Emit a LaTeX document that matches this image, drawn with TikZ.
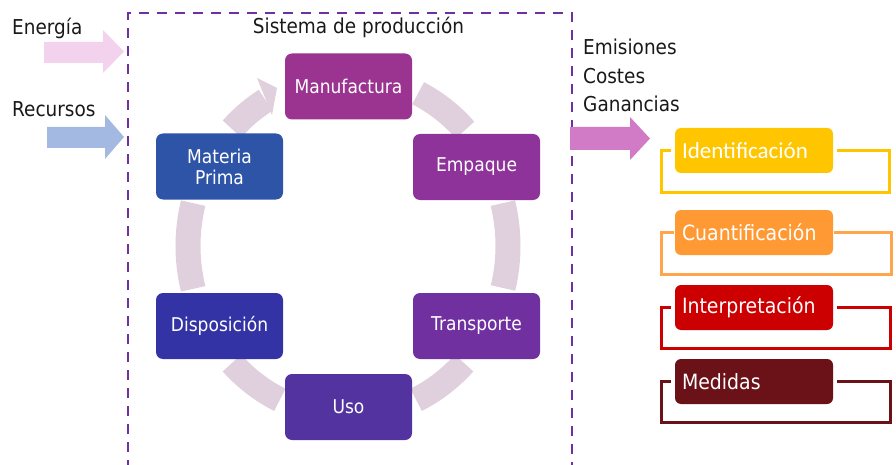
\documentclass[tikz,border=0pt]{standalone}
\usepackage{fontspec}
\setmainfont{DejaVu Sans}[FakeStretch=0.9]
\newfontfamily\idfont{Carlito}
\definecolor{cFrame}{HTML}{7030A0}
\definecolor{cRing}{HTML}{E0D0DE}
\definecolor{cEn}{HTML}{F2D2EC}
\definecolor{cRec}{HTML}{A4B9E2}
\definecolor{cOut}{HTML}{D17AC6}
\definecolor{cManu}{HTML}{9B3390}
\definecolor{cEmp}{HTML}{8E3399}
\definecolor{cTra}{HTML}{7030A0}
\definecolor{cUso}{HTML}{5233A0}
\definecolor{cDis}{HTML}{3333A6}
\definecolor{cMat}{HTML}{2E54A8}
\definecolor{cYel}{HTML}{FFC600}
\definecolor{cOra}{HTML}{FF9933}
\definecolor{cOraL}{HTML}{FFA64D}
\definecolor{cRed}{HTML}{CC0000}
\definecolor{cDrk}{HTML}{6B1218}
\begin{document}
\begin{tikzpicture}[x=1pt,y=-1pt,
  cyc/.style={rounded corners=7pt, minimum width=127pt, minimum height=66pt, inner sep=0pt,
    text=white, font=\fontsize{19}{21}\selectfont, align=center},
  ring/.style={draw=cRing, line width=25pt},
  lbl/.style={font=\fontsize{20.5}{24}\selectfont, text=black!90, inner sep=0pt, anchor=base west},
  rbox/.style={rounded corners=6pt, minimum height=45pt, text width=144pt, inner xsep=7pt,
    inner ysep=0pt, align=left, text=white, font=\fontsize{21}{24}\selectfont},
  bk/.style={line width=2.8pt},
  frame/.style={draw=cFrame, line width=2.7pt, dash pattern=on 10pt off 8pt}]
\useasboundingbox (0,0) rectangle (896,465);

% dashed frame of the production system
\draw[frame] (128,470) -- (128,13) -- (572,13) -- (572,470);

% input / output block arrows
\fill[cEn] (44,42) -- (103,42) -- (103,30) -- (124,51.5) -- (103,73) -- (103,63) -- (44,63) -- cycle;
\fill[cRec] (47,127) -- (105,127) -- (105,115) -- (124,137) -- (105,159) -- (105,148) -- (47,148) -- cycle;
\fill[cOut] (570,127) -- (630,127) -- (630,117) -- (650,138.5) -- (630,160) -- (630,150) -- (570,150) -- cycle;

% labels
\node[lbl] (en) at (12,35) {Energía};
\node[lbl] (rec) at (12,117) {Recursos};
\node[lbl, anchor=base] (sys) at (358.5,34) {Sistema de producción};
\node[lbl] (emi) at (583,55) {Emisiones};
\node[lbl] (cos) at (583,84) {Costes};
\node[lbl] (gan) at (583,112) {Ganancias};

% cycle ring
\coordinate (C) at (348,246);
\draw[ring] (C) ++(-64:160 and 170) arc[start angle=-64, end angle=-43, x radius=160, y radius=170];
\draw[ring] (C) ++(-14.6:160 and 170) arc[start angle=-14.6, end angle=14.3, x radius=160, y radius=170];
\draw[ring] (C) ++(43.5:160 and 170) arc[start angle=43.5, end angle=64.8, x radius=160, y radius=170];
\draw[ring] (C) ++(115.2:160 and 170) arc[start angle=115.2, end angle=136.5, x radius=160, y radius=170];
\draw[ring] (C) ++(165.4:160 and 170) arc[start angle=165.4, end angle=194.6, x radius=160, y radius=170];
\draw[ring] (C) ++(-136.5:160 and 170) arc[start angle=-136.5, end angle=-121, x radius=160, y radius=170];
\fill[cRing] (257,78) -- (277,88) -- (272,115) -- cycle;

% cycle boxes
\node[cyc, fill=cManu] (manu) at (348.5,86.5) {Manufactura};
\node[cyc, fill=cEmp] (emp) at (476.5,167) {Empaque};
\node[cyc, fill=cTra] (tra) at (476.5,326) {Transporte};
\node[cyc, fill=cUso] (uso) at (348.5,407) {Uso};
\node[cyc, fill=cDis] (dis) at (219.5,326) {Disposición};
\node[cyc, fill=cMat] (mat) at (219.5,166.5) {Materia\\Prima};

% right-hand steps
\node[rbox, fill=cYel, font=\idfont\fontsize{23}{26}\selectfont] (b1) at (754,150.5) {Identificación};
\node[rbox, fill=cOra] (b2) at (754,232.5) {Cuantificación};
\node[rbox, fill=cRed] (b3) at (754,307.5) {Interpretación};
\node[rbox, fill=cDrk] (b4) at (754,381.5) {Medidas};

\draw[bk, cYel] ([xshift=-4pt]b1.west) -- ++(-9,0) -- ++(0,42) -- ++(228,0) -- ++(0,-42) -- ([xshift=4pt]b1.east);
\draw[bk, cOraL] ([xshift=-1pt]b2.west) -- ++(-12,0) -- ++(0,42) -- ++(230,0) -- ++(0,-42) -- ([xshift=1pt]b2.east);
\draw[bk, cRed] ([xshift=-4pt]b3.west) -- ++(-9,0) -- ++(0,41) -- ++(229,0) -- ++(0,-41) -- ([xshift=4pt]b3.east);
\draw[bk, cDrk] ([xshift=-4pt]b4.west) -- ++(-9,0) -- ++(0,41) -- ++(229,0) -- ++(0,-41) -- ([xshift=4pt]b4.east);
\end{tikzpicture}
\end{document}
